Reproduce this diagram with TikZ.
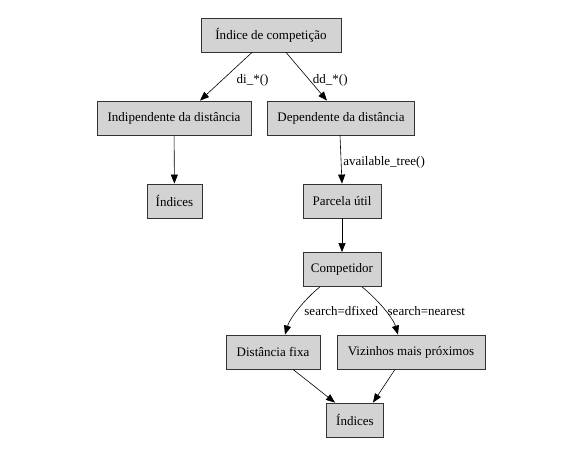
\documentclass[tikz,border=0pt]{standalone}
\usepackage{fontspec}
\setmainfont{Liberation Serif}
\usepackage{tikz}
\usetikzlibrary{arrows.meta, shadows}
\definecolor{boxgray}{RGB}{211,211,211}

\begin{document}
\begin{tikzpicture}[
    x=1pt, y=-1pt,
    font=\fontsize{13}{15}\selectfont,
    % Node styles
    box/.style={rectangle, draw=black!80, line width=0.8pt, fill=boxgray, minimum height=34pt, inner xsep=2pt, inner ysep=1pt, align=center,
        drop shadow={shadow xshift=0.8pt, shadow yshift=-0.8pt, fill=black!75, opacity=1}},
    elabel/.style={anchor=west, inner sep=1pt},
    arrow/.style={-{Triangle[length=9pt, width=7pt]}, line width=0.6pt},
]
\useasboundingbox[fill=white] (0,0) rectangle (580,454);

% ============================================================================
% TOP: COMPETITION INDEX
% ============================================================================
\node[box, minimum width=140pt] (indice) at (271,35) {Índice de competição};

\node[box, minimum width=154pt] (indep) at (174,118) {Indipendente da distância};
\node[box, minimum width=147pt] (dep) at (341,118) {Dependente da distância};

\draw[arrow] ([xshift=-19pt]indice.south) -- ([xshift=26pt]indep.north)
    node[elabel, pos=0.53, xshift=11pt, yshift=-2pt] {di\_*()};
\draw[arrow] ([xshift=15pt]indice.south) -- ([xshift=-14pt]dep.north)
    node[elabel, pos=0.54, xshift=3.5pt, yshift=-2pt] {dd\_*()};

% ============================================================================
% LEFT BRANCH
% ============================================================================
\node[box, minimum width=55pt] (indices1) at (174.5,201) {Índices};
\draw[arrow] (indep) -- (indices1);

% ============================================================================
% RIGHT BRANCH
% ============================================================================
\node[box, minimum width=78pt] (parcela) at (342,201) {Parcela útil};
\node[box, minimum width=78pt] (competidor) at (342,269.5) {Competidor};

\draw[arrow] ([xshift=-1pt]dep.south) -- (parcela.north)
    node[elabel, midway, xshift=1pt, yshift=-2.5pt] {available\_tree()};
\draw[arrow] (parcela) -- (competidor);

% Search methods
\node[box, minimum width=94pt] (fixa) at (273,352) {Distância fixa};
\node[box, minimum width=148pt] (vizinhos) at (411,352) {Vizinhos mais próximos};

\draw[arrow] ([xshift=-22pt]competidor.south) .. controls +(-14,11) and +(5,-17) .. ([xshift=12pt]fixa.north)
    node[elabel, pos=0.5, xshift=4pt, yshift=-2.5pt] {search=dfixed};
\draw[arrow] ([xshift=20pt]competidor.south) .. controls +(14,11) and +(-5,-17) .. ([xshift=-13pt]vizinhos.north)
    node[elabel, pos=0.5, xshift=3pt, yshift=-2.5pt] {search=nearest};

% Final indices
\node[box, minimum width=57pt] (indices2) at (355,420) {Índices};
\draw[arrow] ([xshift=20pt]fixa.south) -- ([xshift=-20pt]indices2.north);
\draw[arrow] ([xshift=-16pt]vizinhos.south) -- ([xshift=18pt]indices2.north);

\end{tikzpicture}
\end{document}
